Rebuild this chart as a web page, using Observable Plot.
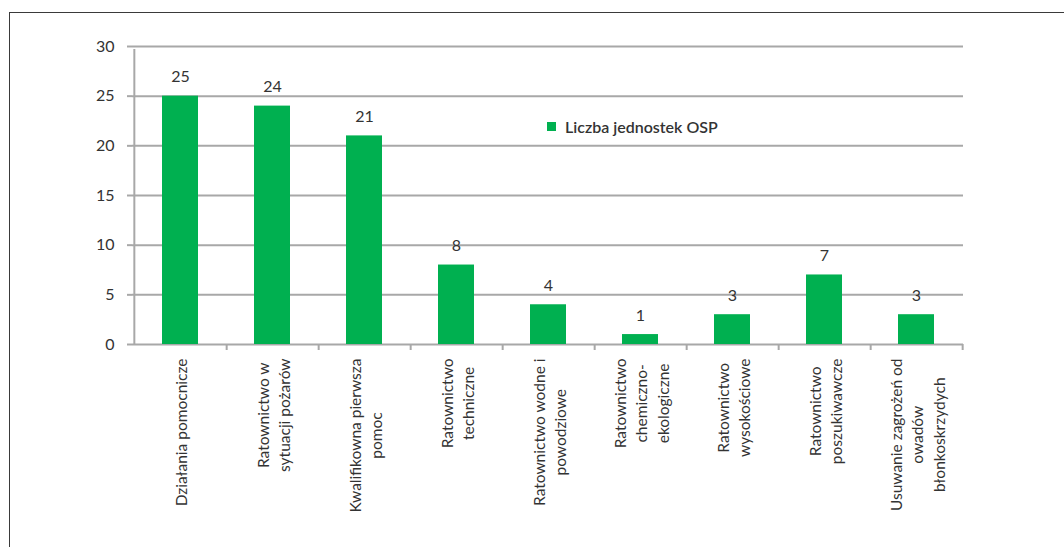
<!DOCTYPE html>
<html>
<head>
<meta charset="utf-8">
<script src="https://cdn.jsdelivr.net/npm/d3@7"></script>
<script src="https://cdn.jsdelivr.net/npm/@observablehq/plot@0.6"></script>
<style>
  html, body { margin: 0; padding: 0; background: #fff; }
  #box { position: absolute; left: 9px; top: 12px; width: 1054px; height: 540px;
         border-left: 1px solid #3a3a3a; border-top: 1px solid #3a3a3a; overflow: hidden; }
  #legend { position: absolute; left: 537px; top: 104px; display: flex; align-items: center;
            font-family: Lato, "Open Sans", sans-serif; font-size: 16px; font-weight: 600; color: #333; }
  #legend .sw { width: 9px; height: 9px; background: #00b050; margin-right: 9px; }
</style>
</head>
<body>
<div id="box"><div id="legend"><div class="sw"></div><span>Liczba jednostek OSP</span></div></div>
<script>
const categories = [
  "Działania pomocnicze",
  "Ratownictwo w\nsytuacji pożarów",
  "Kwalifikowna pierwsza\npomoc",
  "Ratownictwo\ntechniczne",
  "Ratownictwo wodne i\npowodziowe",
  "Ratownictwo\nchemiczno-\nekologiczne",
  "Ratownictwo\nwysokościowe",
  "Ratownictwo\nposzukiwawcze",
  "Usuwanie zagrożeń od\nowadów\nbłonkoskrzydych"
];
const values = [25, 24, 21, 8, 4, 1, 3, 7, 3];
const yTicks = [0, 5, 10, 15, 20, 25, 30];
const seriesName = "Liczba jednostek OSP";

const data = categories.map((c, i) => ({category: c, value: values[i]}));

const W = 1053, H = 534, ML = 122, MR = 100, MT = 33, MB = 203;
const step = (W - ML - MR) / categories.length;
const grid = "#a8a8a8";
const ink = "#333";

const chart = Plot.plot({
  width: W, height: H,
  marginLeft: ML, marginRight: MR, marginTop: MT, marginBottom: MB,
  style: {fontFamily: "Lato, 'Open Sans', sans-serif", fontSize: "15px", color: ink, background: "transparent"},
  x: {domain: categories, paddingInner: 0.61, paddingOuter: 0.305, label: null},
  y: {domain: [0, 30], label: null},
  marks: [
    Plot.gridY(yTicks, {stroke: grid, strokeOpacity: 1, strokeWidth: 2}),
    Plot.axisY(yTicks, {tickSize: 5, tickPadding: 13, stroke: grid, strokeWidth: 2, strokeOpacity: 1, fill: ink, fontSize: 16}),
    Plot.ruleX([0], {x: () => categories[0], dx: -step / 2, y1: 0, y2: 30, insetBottom: -3, stroke: grid, strokeWidth: 2}),
    Plot.axisX({tickSize: 6, tickFormat: () => "", dx: step / 2, stroke: grid, strokeWidth: 2, strokeOpacity: 1}),
    Plot.axisX({tickSize: 0, tickPadding: 14, tickRotate: -90, fill: ink, fontSize: 15.5, lineHeight: 1.4}),
    Plot.barY(data, {x: "category", y: "value", fill: "#00b050"}),
    Plot.text(data, {x: "category", y: "value", text: d => String(d.value), dy: -19, fill: ink, fontSize: 16})
  ]
});

document.getElementById("box").appendChild(chart);

// center the lines of each rotated x label among themselves, keeping the block top-aligned
const axisTexts = chart.querySelectorAll("g[aria-label='x-axis tick label'] text");
axisTexts.forEach(t => {
  const spans = t.querySelectorAll("tspan");
  const lens = spans.length ? Array.from(spans).map(s => s.getComputedTextLength()) : [t.getComputedTextLength()];
  const maxLen = Math.max(...lens);
  t.setAttribute("text-anchor", "middle");
  if (spans.length) spans.forEach(s => s.setAttribute("x", -maxLen / 2));
  else t.setAttribute("x", -maxLen / 2);
});
</script>
</body>
</html>
